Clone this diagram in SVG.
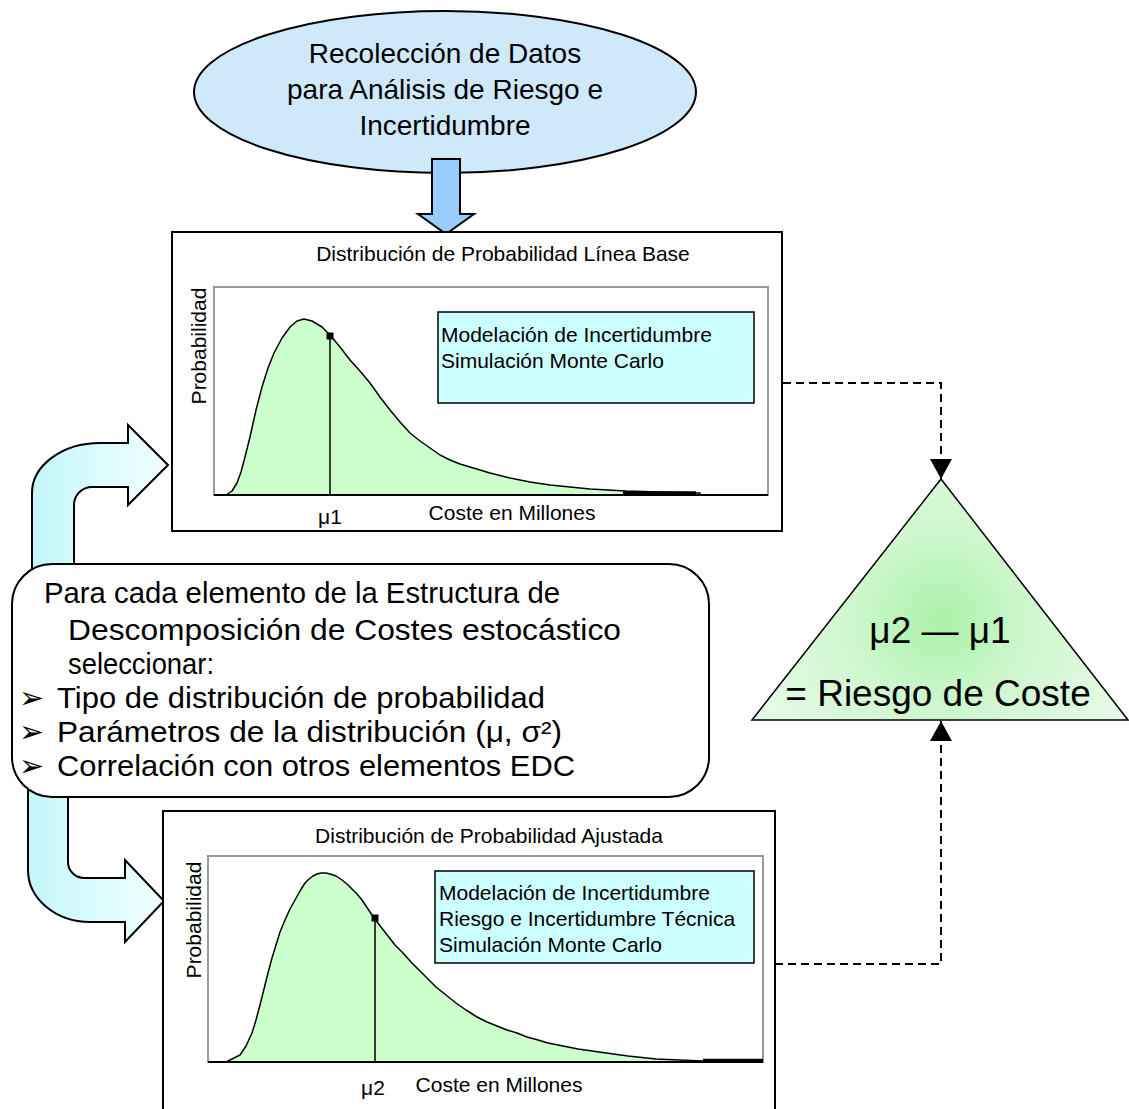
<svg xmlns="http://www.w3.org/2000/svg" width="1129" height="1109" viewBox="0 0 1129 1109">
  <defs>
    <linearGradient id="bandFill" x1="0" y1="0" x2="1" y2="0">
      <stop offset="0" stop-color="#c4f7fb"/>
      <stop offset="1" stop-color="#f2ffff"/>
    </linearGradient>
    <radialGradient id="riskFill" gradientUnits="userSpaceOnUse" cx="941" cy="620" r="200">
      <stop offset="0" stop-color="#a9f2a9"/>
      <stop offset="0.45" stop-color="#cff7cf"/>
      <stop offset="1" stop-color="#e6fbe6"/>
    </radialGradient>
    <marker id="head" markerUnits="userSpaceOnUse" markerWidth="24" markerHeight="24" refX="20" refY="11" orient="auto">
      <path d="M0,0 L20,11 L0,22 Z" fill="#000"/>
    </marker>
  </defs>
  <style>
    text { font-family: "Liberation Sans", Arial, sans-serif; fill: #000; }
    .big { font-size: 28px; }
    .chart { font-size: 21px; }
    .note { font-size: 29px; }
    .bullet { font-family: "DejaVu Sans", sans-serif; font-size: 30px; }
    .tri { font-size: 37px; }
    .frame { fill: #fff; stroke: #000; stroke-width: 2; }
    .plot { fill: #fff; stroke: #999; stroke-width: 2; }
    .info { fill: #ccffff; stroke: #000; stroke-width: 1.5; }
    .dist { fill: #ccffcc; stroke: #000; stroke-width: 1.5; stroke-linejoin: round; }
    .axis { stroke: #000; stroke-width: 2; fill: none; }
    .tail { stroke: #000; stroke-width: 3.5; fill: none; }
    .mean { stroke: #000; stroke-width: 1.5; }
    .band { fill: url(#bandFill); stroke: #000; stroke-width: 2; stroke-linejoin: miter; }
    .dash { fill: none; stroke: #000; stroke-width: 2; stroke-dasharray: 8 5; marker-end: url(#head); }
  </style>

  <!-- data collection -->
  <g id="data-collection">
    <ellipse cx="445" cy="92" rx="251" ry="81" fill="#cfe8fa" stroke="#000" stroke-width="2"/>
    <text class="big" x="445" y="63" text-anchor="middle">Recolección de Datos</text>
    <text class="big" x="445" y="99" text-anchor="middle">para Análisis de Riesgo e</text>
    <text class="big" x="445" y="135" text-anchor="middle">Incertidumbre</text>
  </g>

  <!-- connectors -->
  <g id="connectors">
    <path id="feed-down" d="M432,159 H460 V214 H474 L446,234 L418,214 H432 Z" fill="#99ccff" stroke="#000" stroke-width="2"/>
    <path id="feed-baseline" class="band" d="M32,590 V493 A68,50 0 0 1 100,443 H128 V425 L168,465 L128,505 V487 H92 A18,18 0 0 0 74,505 V590 Z"/>
    <path id="feed-adjusted" class="band" d="M28,780 V870 A62,52 0 0 0 90,922 H125 V942 L164,901 L125,860 V878 H84 A16,16 0 0 1 68,862 V780 Z"/>
    <path id="baseline-to-risk" class="dash" d="M783,383 H941 V479"/>
    <path id="adjusted-to-risk" class="dash" d="M775,964 H941 V721"/>
  </g>

  <!-- baseline distribution chart -->
  <g id="baseline-chart">
    <rect class="frame" x="172" y="232" width="610" height="299"/>
    <text class="chart" x="503" y="261" text-anchor="middle">Distribución de Probabilidad Línea Base</text>
    <rect class="plot" x="214" y="287" width="554" height="208"/>
    <path class="dist" d="M226,495 L232,491 L237,483 L241,472 L245,457 L250,437 L256,410 L262,387 L268,368 L274,353 L282,338 L290,327 L297,321 L304,319 L312,321 L322,327 L330,335 L340,347 L350,360 L360,371 L370,383 L380,397 L390,410 L400,422 L410,433 L420,441 L430,448 L440,455 L450,460 L460,464 L470,467 L490,473 L510,478 L530,482 L550,485 L570,487 L590,489 L626,491 L660,492 L700,493 L700,495 Z"/>
    <line class="tail" x1="623" y1="493" x2="696" y2="493"/>
    <line class="axis" x1="214" y1="495" x2="768" y2="495"/>
    <line class="mean" x1="330" y1="336" x2="330" y2="495"/>
    <rect x="326.5" y="332.5" width="7" height="7" fill="#000"/>
    <rect class="info" x="438" y="312" width="316" height="91"/>
    <text class="chart" x="441" y="342">Modelación de Incertidumbre</text>
    <text class="chart" x="441" y="368">Simulación Monte Carlo</text>
    <text class="chart" transform="translate(206,346) rotate(-90)" text-anchor="middle">Probabilidad</text>
    <text class="chart" x="330" y="524" text-anchor="middle">μ1</text>
    <text class="chart" x="512" y="520" text-anchor="middle">Coste en Millones</text>
  </g>

  <!-- adjusted distribution chart -->
  <g id="adjusted-chart">
    <rect class="frame" x="163" y="811" width="612" height="310"/>
    <text class="chart" x="489" y="843" text-anchor="middle">Distribución de Probabilidad Ajustada</text>
    <rect class="plot" x="208" y="856" width="555" height="206"/>
    <path class="dist" d="M226,1062 L240,1055 L246,1046 L252,1033 L256,1020 L260,1005 L264,989 L268,973 L272,958 L276,945 L280,932 L285,920 L290,909 L295,900 L300,891 L305,883 L309,879 L313,876 L317,874 L321,873 L326,873 L330,874 L336,876 L342,880 L347,884 L352,889 L357,894 L362,900 L368,909 L374,918 L381,927 L388,936 L395,945 L403,953 L411,962 L420,971 L428,979 L436,987 L446,995 L456,1003 L466,1010 L477,1017 L487,1022 L497,1026 L507,1030 L517,1033 L527,1037 L538,1040 L548,1043 L558,1045 L568,1047 L578,1049 L599,1052 L628,1056 L656,1059 L703,1061 L703,1062 Z"/>
    <line class="tail" x1="703" y1="1060.5" x2="763" y2="1060.5"/>
    <line class="axis" x1="208" y1="1062" x2="763" y2="1062"/>
    <line class="mean" x1="375" y1="918" x2="375" y2="1062"/>
    <rect x="371.5" y="914.5" width="7" height="7" fill="#000"/>
    <rect class="info" x="435" y="871" width="319" height="92"/>
    <text class="chart" x="439" y="900">Modelación de Incertidumbre</text>
    <text class="chart" x="439" y="926">Riesgo e Incertidumbre Técnica</text>
    <text class="chart" x="439" y="952">Simulación Monte Carlo</text>
    <text class="chart" transform="translate(201,920) rotate(-90)" text-anchor="middle">Probabilidad</text>
    <text class="chart" x="373" y="1095" text-anchor="middle">μ2</text>
    <text class="chart" x="499" y="1092" text-anchor="middle">Coste en Millones</text>
  </g>

  <!-- selection criteria for each stochastic CBS element -->
  <g id="wbs-selection">
    <rect x="12" y="564" width="697" height="233" rx="40" ry="40" fill="#fff" stroke="#000" stroke-width="2"/>
    <text class="note" x="44" y="603" textLength="516" lengthAdjust="spacingAndGlyphs">Para cada elemento de la Estructura de</text>
    <text class="note" x="68" y="640" textLength="553" lengthAdjust="spacingAndGlyphs">Descomposición de Costes estocástico</text>
    <text class="note" x="68" y="674" textLength="146" lengthAdjust="spacingAndGlyphs">seleccionar:</text>
    <text class="bullet" x="19" y="708">➢</text>
    <text class="note" x="57" y="708" textLength="488" lengthAdjust="spacingAndGlyphs">Tipo de distribución de probabilidad</text>
    <text class="bullet" x="19" y="742">➢</text>
    <text class="note" x="57" y="742" textLength="505" lengthAdjust="spacingAndGlyphs">Parámetros de la distribución (μ, σ²)</text>
    <text class="bullet" x="19" y="776">➢</text>
    <text class="note" x="57" y="776" textLength="518" lengthAdjust="spacingAndGlyphs">Correlación con otros elementos EDC</text>
  </g>

  <!-- cost risk -->
  <g id="cost-risk">
    <path d="M941,479 L1128,720 L752,720 Z" fill="url(#riskFill)" stroke="#000" stroke-width="1.5"/>
    <text class="tri" x="940" y="643" text-anchor="middle">μ2 — μ1</text>
    <text class="tri" x="938" y="706" text-anchor="middle">= Riesgo de Coste</text>
  </g>
</svg>
